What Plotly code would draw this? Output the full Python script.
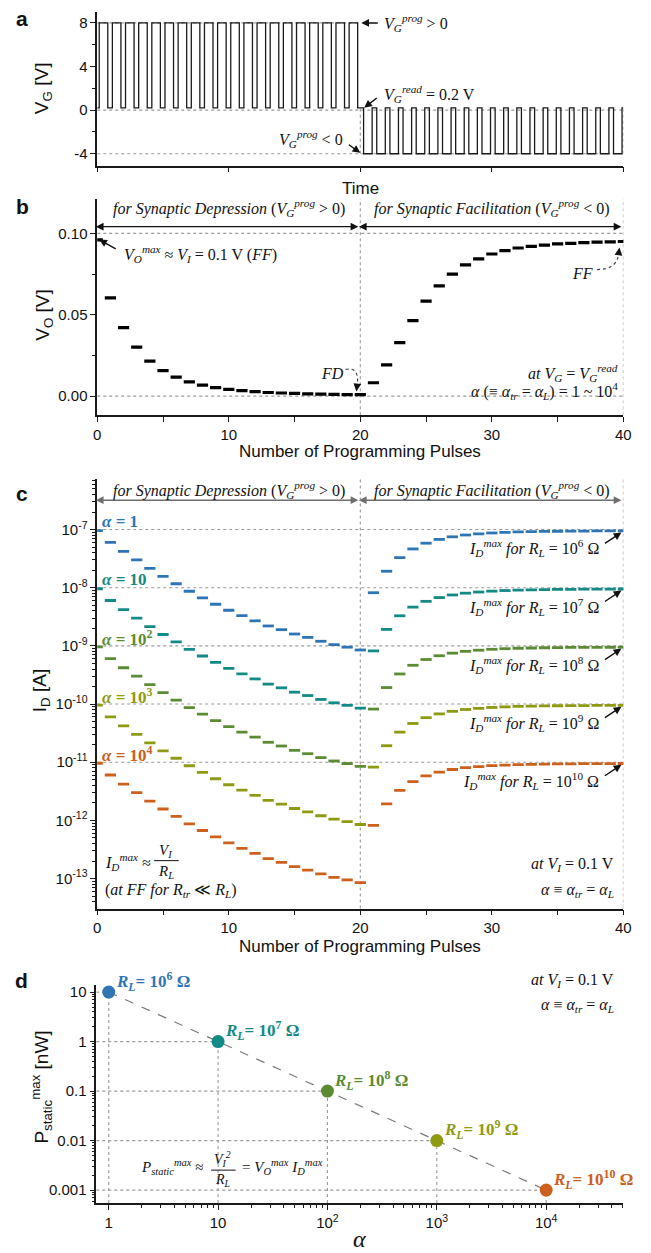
import math
import plotly.graph_objects as go

W, H = 651, 1253

# ------------------------------------------------------------------ data
pulse_number = list(range(41))
vo_volts = [0.096, 0.0603, 0.0421, 0.0301, 0.0215, 0.0157, 0.0117, 0.0087, 0.0067, 0.0052,
            0.0041, 0.0033, 0.0027, 0.0022, 0.0019, 0.0016, 0.0014, 0.0012, 0.00105, 0.00095,
            0.00085, 0.0082, 0.0192, 0.0329, 0.0464, 0.0583, 0.0677, 0.0750, 0.0806, 0.0843,
            0.0873, 0.0894, 0.0910, 0.0920, 0.0928, 0.0935, 0.0939, 0.0943, 0.0946, 0.0948, 0.0950]
alpha_values = [1, 10, 100, 1000, 10000]
rl_ohm = [1e6, 1e7, 1e8, 1e9, 1e10]
p_static_nw = [10, 1, 0.1, 0.01, 0.001]
series_colors = ["#2e75b6", "#138a85", "#5b8c33", "#8e9a12", "#cc601c"]
alpha_text = ["1", "10", "10<sup>2</sup>", "10<sup>3</sup>", "10<sup>4</sup>"]
rl_text = ["10<sup>6</sup>", "10<sup>7</sup>", "10<sup>8</sup>", "10<sup>9</sup>", "10<sup>10</sup>"]

v_prog_pos = 8.0
v_prog_neg = -4.0
v_read = 0.2
dep_on = [i + 0.15 for i in range(20)]
dep_off = [i + 0.80 for i in range(20)]
fac_on = [i + 0.25 for i in range(20, 40)]
fac_off = [i + 0.90 for i in range(20, 40)]

# waveform (schematic)
t_wave, v_wave = [0.0], [v_read]
for a, b in zip(dep_on, dep_off):
    t_wave += [a, b]
    v_wave += [v_prog_pos, v_read]
for a, b in zip(fac_on, fac_off):
    t_wave += [a, b]
    v_wave += [v_prog_neg, v_read]
t_wave.append(40.0)
v_wave.append(v_read)

# I_D = V_O / R_L for each load
id_series = [[v / rl for v in vo_volts] for rl in rl_ohm]

SANS = "Liberation Sans, Arial, sans-serif"
SERIF = "Liberation Serif, DejaVu Serif, serif"
INK = "#1a1a1a"
GRID = "#9a9a9a"

fig = go.Figure()

# panel a
fig.add_trace(go.Scatter(x=t_wave, y=v_wave, mode="lines", line=dict(color=INK, width=1.3, shape="hv"),
                         xaxis="x", yaxis="y", showlegend=False))
# panel b
fig.add_trace(go.Scatter(x=pulse_number, y=vo_volts, mode="markers",
                         marker=dict(symbol="line-ew", size=8, line=dict(width=3.2, color="black")),
                         xaxis="x2", yaxis="y2", showlegend=False))
# panel c
for ser, col in zip(id_series, series_colors):
    fig.add_trace(go.Scatter(x=pulse_number, y=ser, mode="markers",
                             marker=dict(symbol="line-ew", size=8, line=dict(width=2.8, color=col)),
                             xaxis="x3", yaxis="y3", showlegend=False))
# panel d
fig.add_trace(go.Scatter(x=alpha_values, y=p_static_nw, mode="lines",
                         line=dict(color="#7a7a7a", width=1.2, dash="dash"),
                         xaxis="x4", yaxis="y4", showlegend=False))
fig.add_trace(go.Scatter(x=alpha_values, y=p_static_nw, mode="markers",
                         marker=dict(size=13, color=series_colors, line=dict(width=0)),
                         xaxis="x4", yaxis="y4", showlegend=False, cliponaxis=False))

# ------------------------------------------------------------------ axes
def ax_common(**kw):
    d = dict(showline=True, linecolor=INK, linewidth=1.5, showgrid=False, zeroline=False,
             ticks="outside", tickcolor=INK, tickwidth=1.2, ticklen=5,
             tickfont=dict(family=SANS, size=15, color="#111"))
    d.update(kw)
    return d

XD = [95 / W, 631 / W]
lin_x_minor = dict(ticks="outside", ticklen=5, tickcolor=INK, tickwidth=1.2, tickvals=[5, 15, 25, 35])

fig.update_layout(
    xaxis=ax_common(domain=XD, range=[0, 40], anchor="y", tickvals=[0, 10, 20, 30, 40],
                    showticklabels=False, minor=dict(ticks="", tickvals=[])),
    yaxis=ax_common(domain=[1 - 164 / H, 1 - 10 / H], range=[-5.1, 9.0], anchor="x",
                    tickvals=[-4, 0, 4, 8], ticktext=["-4", "0", "4", "8"],
                    minor=dict(ticks="outside", ticklen=3, tickcolor=INK, tickvals=[-2, 2, 6])),
    xaxis2=ax_common(domain=XD, range=[0, 40], anchor="y2", tickvals=[0, 10, 20, 30, 40],
                     minor=lin_x_minor),
    yaxis2=ax_common(domain=[1 - 414 / H, 1 - 197 / H], range=[-0.01184, 0.1213], anchor="x2",
                     tickvals=[0, 0.05, 0.10], ticktext=["0.00", "0.05", "0.10"],
                     minor=dict(ticks="outside", ticklen=3, tickcolor=INK, tickvals=[0.025, 0.075])),
    xaxis3=ax_common(domain=XD, range=[0, 40], anchor="y3", tickvals=[0, 10, 20, 30, 40],
                     minor=lin_x_minor),
    yaxis3=ax_common(domain=[1 - 908 / H, 1 - 478 / H], type="log", range=[-13.516, -6.135], anchor="x3",
                     tickvals=[1e-13, 1e-12, 1e-11, 1e-10, 1e-9, 1e-8, 1e-7],
                     ticktext=["10<sup>-13</sup>", "10<sup>-12</sup>", "10<sup>-11</sup>", "10<sup>-10</sup>",
                               "10<sup>-9</sup>", "10<sup>-8</sup>", "10<sup>-7</sup>"],
                     minor=dict(ticks="outside", ticklen=3, tickcolor=INK,
                                tickvals=[m * 10.0 ** e for e in range(-14, -6) for m in range(2, 10)])),
    xaxis4=ax_common(domain=[94 / W, 631 / W], type="log", range=[-0.114, 4.706], anchor="y4",
                     tickvals=[1, 10, 100, 1000, 10000],
                     ticktext=["1", "10", "10<sup>2</sup>", "10<sup>3</sup>", "10<sup>4</sup>"],
                     minor=dict(ticks="outside", ticklen=3, tickcolor=INK,
                                tickvals=[m * 10.0 ** e for e in range(0, 5) for m in range(2, 10)])),
    yaxis4=ax_common(domain=[1 - 1203 / H, 1 - 985 / H], type="log", range=[-3.262, 1.135], anchor="x4",
                     tickvals=[0.001, 0.01, 0.1, 1, 10], ticktext=["0.001", "0.01", "0.1", "1", "10"],
                     minor=dict(ticks="outside", ticklen=3, tickcolor=INK,
                                tickvals=[m * 10.0 ** e for e in range(-4, 1) for m in range(2, 10)])),
)

# ------------------------------------------------------------------ guide lines
shapes = []
def dline(xref, yref, x0, y0, x1, y1, color=GRID, dash="dot", width=1.1):
    shapes.append(dict(type="line", xref=xref, yref=yref, x0=x0, y0=y0, x1=x1, y1=y1,
                       line=dict(color=color, dash=dash, width=width), layer="below"))

# a
dline("x", "y", 0, v_prog_pos, 20, v_prog_pos)
dline("x", "y", 0, 0, 40, 0)
dline("x", "y", 0, v_prog_neg, 40, v_prog_neg)
dline("x", "y", 20, v_prog_neg, 20, v_read)
dline("x", "y", 40, v_prog_neg, 40, v_read)
# b
dline("x2", "y2", 0, 0.1, 40, 0.1)
dline("x2", "y2", 0, 0.0, 40, 0.0)
dline("x2", "y2 domain", 20, 0, 20, 1)
dline("x2", "y2 domain", 40, 0, 40, 1)
# c
for rl in rl_ohm:
    dline("x3", "y3", 0, 0.1 / rl, 40, 0.1 / rl)
dline("x3", "y3 domain", 20, 0, 20, 1)
dline("x3", "y3 domain", 40, 0, 40, 1)
# d
for a, p in zip(alpha_values, p_static_nw):
    dline("x4", "y4", a, 10 ** -3.262, a, p)
    dline("x4", "y4", 10 ** -0.114, p, a, p)

# ------------------------------------------------------------------ annotations
ann = []
def txt(xp, yp, s, size=16, color="#111", xa="left", ya="middle", fam=SERIF, angle=0):
    ann.append(dict(xref="paper", yref="paper", x=xp / W, y=1 - yp / H, text=s, showarrow=False,
                    xanchor=xa, yanchor=ya, textangle=angle, font=dict(family=fam, size=size, color=color)))

def arr(tipx, tipy, tailx, taily, color="#111", width=1.4, head=2, size=1.1, both=False):
    ann.append(dict(xref="paper", yref="paper", x=tipx / W, y=1 - tipy / H,
                    ax=tailx - tipx, ay=taily - tipy, axref="pixel", ayref="pixel",
                    text="", showarrow=True, arrowhead=head, startarrowhead=head,
                    arrowsize=size, startarrowsize=size, arrowwidth=width, arrowcolor=color,
                    arrowside="end+start" if both else "end"))

VG = "<i>V</i><sub><i>G</i></sub>"
prog = "<sup><i>prog</i></sup>"

# panel letters
for lx, ly, L in [(18, 17, "a"), (19, 205, "b"), (18, 492, "c"), (18, 980, "d")]:
    txt(lx, ly, "<b>%s</b>" % L, size=21, fam=SANS, xa="center")

# axis titles
txt(40, 86, "V<sub>G</sub> [V]", size=19, fam=SANS, xa="center", angle=-90)
txt(40, 313, "V<sub>O</sub> [V]", size=19, fam=SANS, xa="center", angle=-90)
txt(38, 690, "I<sub>D</sub> [A]", size=19, fam=SANS, xa="center", angle=-90)
txt(38, 1087, "P<sub>static</sub><sup>max</sup> [nW]", size=19, fam=SANS, xa="center", angle=-90)
txt(363, 187, "Time", size=17, fam=SANS, xa="center")
txt(363, 450, "Number of Programming Pulses", size=17, fam=SANS, xa="center")
txt(363, 946, "Number of Programming Pulses", size=17, fam=SANS, xa="center")
txt(362, 1239, "<i>α</i>", size=24, fam=SERIF, xa="center")

# panel a
arr(364, 21, 382, 21)
txt(385, 21, VG + prog + " &gt; 0", size=16)
arr(367, 106, 381, 95)
txt(385, 92, VG + "<sup><i>read</i></sup> = 0.2 V", size=16)
txt(347, 137, VG + prog + " &lt; 0", size=16, xa="right")
arr(363, 151, 350, 142)

# panel b
arr(361, 225, 97, 225, both=True)
arr(629, 225, 365, 225, both=True)
txt(229, 206, "<i>for Synaptic Depression</i> (" + VG + prog + " &gt; 0)", xa="center")
txt(497, 206, "<i>for Synaptic Facilitation</i> (" + VG + prog + " &lt; 0)", xa="center")
arr(97, 238, 115, 248)
txt(120, 252, "<i>V</i><sub><i>O</i></sub><sup><i>max</i></sup> ≈ <i>V</i><sub><i>I</i></sub> = 0.1 V (<i>FF</i>)")
txt(335, 372, "<i>FD</i>", xa="center")
txt(589, 272, "<i>FF</i>", xa="center")
txt(628, 372, "<i>at</i> " + VG + " = " + VG + "<sup><i>read</i></sup>", xa="right")
txt(628, 390, "<i>α</i> (≡ <i>α</i><sub><i>tr</i></sub> = <i>α</i><sub><i>L</i></sub>) = 1 ~ 10<sup>4</sup>", xa="right")
# dotted curved arrows (paper coords)
def pth(pts):
    (x0, y0), (cx, cy), (x1, y1) = pts
    return "M %.5f %.5f Q %.5f %.5f %.5f %.5f" % (x0 / W, 1 - y0 / H, cx / W, 1 - cy / H, x1 / W, 1 - y1 / H)
shapes.append(dict(type="path", xref="paper", yref="paper", path=pth([(348, 368), (362, 365), (360, 383)]),
                   line=dict(color="#444", dash="dot", width=1.2)))
arr(359, 390, 360, 382, width=1.2, size=1.3)
shapes.append(dict(type="path", xref="paper", yref="paper", path=pth([(604, 268), (624, 268), (626, 253)]),
                   line=dict(color="#444", dash="dot", width=1.2)))
arr(627, 246, 626, 254, width=1.2, size=1.3)

# panel c
arr(361, 499, 97, 499, color="#6e6e6e", both=True)
arr(629, 499, 365, 499, color="#6e6e6e", both=True)
txt(229, 489, "<i>for Synaptic Depression</i> (" + VG + prog + " &gt; 0)", xa="center")
txt(497, 489, "<i>for Synaptic Facilitation</i> (" + VG + prog + " &lt; 0)", xa="center")
line_y = [529.3 + k * 58.17 for k in range(5)]
for k in range(5):
    txt(98, line_y[k] - 9, "<b><i>α</i> = %s</b>" % alpha_text[k], size=17, color=series_colors[k])
    txt(608, line_y[k] + 18, "<i>I</i><sub><i>D</i></sub><sup><i>max</i></sup> <i>for R</i><sub><i>L</i></sub> = %s Ω" % rl_text[k],
        size=16, xa="right")
    arr(629, line_y[k] + 2, 611, line_y[k] + 14)
txt(101, 861, "<i>I</i><sub><i>D</i></sub><sup><i>max</i></sup> ≈", size=16)
txt(165, 850, "<i>V</i><sub><i>I</i></sub>", size=15, xa="center")
txt(165, 871, "<i>R</i><sub><i>L</i></sub>", size=15, xa="center")
shapes.append(dict(type="line", xref="paper", yref="paper", x0=153 / W, x1=178 / W, y0=1 - 860 / H, y1=1 - 860 / H,
                   line=dict(color="#111", width=1)))
txt(101, 890, "(<i>at FF for R</i><sub><i>tr</i></sub> ≪ <i>R</i><sub><i>L</i></sub>)", size=16)
txt(623, 864, "<i>at V</i><sub><i>I</i></sub> = 0.1 V", xa="right")
txt(623, 890, "<i>α</i> ≡ <i>α</i><sub><i>tr</i></sub> = <i>α</i><sub><i>L</i></sub>", xa="right")

# panel d
txt(623, 980, "<i>at V</i><sub><i>I</i></sub> = 0.1 V", xa="right")
txt(623, 1005, "<i>α</i> ≡ <i>α</i><sub><i>tr</i></sub> = <i>α</i><sub><i>L</i></sub>", xa="right")
for a, p, rt, col in zip(alpha_values, p_static_nw, rl_text, series_colors):
    ann.append(dict(xref="x4", yref="y4", x=math.log10(a), y=math.log10(p), xanchor="left", yanchor="middle",
                    xshift=5, yshift=11, showarrow=False,
                    text="<b><i>R</i><sub><i>L</i></sub>= %s Ω</b>" % rt,
                    font=dict(family=SERIF, size=17, color=col)))
txt(138, 1167, "<i>P</i><sub><i>static</i></sub><sup><i>max</i></sup> ≈", size=15)
txt(223, 1159, "<i>V</i><sub><i>I</i></sub><sup><i>2</i></sup>", size=14, xa="center")
txt(223, 1180, "<i>R</i><sub><i>L</i></sub>", size=14, xa="center")
shapes.append(dict(type="line", xref="paper", yref="paper", x0=211 / W, x1=236 / W, y0=1 - 1170 / H, y1=1 - 1170 / H,
                   line=dict(color="#111", width=1)))
txt(240, 1167, "= <i>V</i><sub><i>O</i></sub><sup><i>max</i></sup> <i>I</i><sub><i>D</i></sub><sup><i>max</i></sup>", size=15)

fig.update_layout(width=W, height=H, margin=dict(l=0, r=0, t=0, b=0),
                  paper_bgcolor="white", plot_bgcolor="white",
                  shapes=shapes, annotations=ann, showlegend=False)

fig.write_html("out.html")
